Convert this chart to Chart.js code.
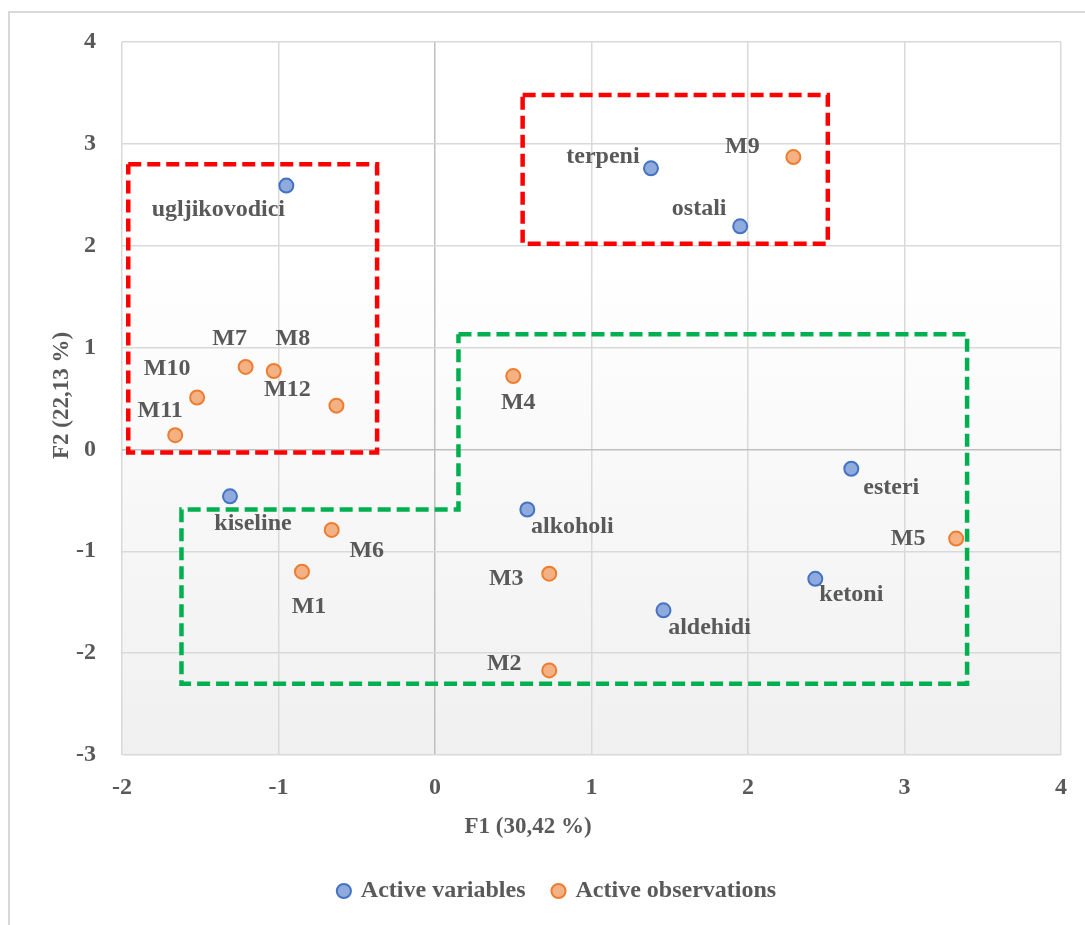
<!DOCTYPE html>
<html>
<head>
<meta charset="utf-8">
<script src="https://cdn.jsdelivr.net/npm/chart.js@4.4.1/dist/chart.umd.min.js"></script>
<style>
    html, body { margin: 0; padding: 0; background: #ffffff; }
    #wrap { position: relative; width: 1085px; height: 925px; }
</style>
</head>
<body>
<div id="wrap"><canvas id="pcaChart" width="1085" height="925"></canvas></div>
<script>
// Active variables (blue)
const varNames = ['ugljikovodici', 'terpeni', 'ostali', 'kiseline', 'alkoholi', 'esteri', 'ketoni', 'aldehidi'];
const varF1 = [-0.95, 1.38, 1.95, -1.31, 0.59, 2.66, 2.43, 1.46];
const varF2 = [2.59, 2.76, 2.19, -0.46, -0.59, -0.19, -1.27, -1.58];

// Active observations (orange)
const obsNames = ['M1', 'M2', 'M3', 'M4', 'M5', 'M6', 'M7', 'M8', 'M9', 'M10', 'M11', 'M12'];
const obsF1 = [-0.85, 0.73, 0.73, 0.50, 3.33, -0.66, -1.21, -1.03, 2.29, -1.52, -1.66, -0.63];
const obsF2 = [-1.20, -2.17, -1.22, 0.72, -0.875, -0.79, 0.81, 0.77, 2.87, 0.51, 0.14, 0.43];

// grouping outlines (data units)
const redLeftX = [-1.96, -0.37, -0.37, -1.96, -1.96];
const redLeftY = [2.80, 2.80, -0.03, -0.03, 2.80];
const redRightX = [0.56, 2.51, 2.51, 0.56, 0.56];
const redRightY = [3.48, 3.48, 2.02, 2.02, 3.48];
const greenX = [0.15, 3.40, 3.40, -1.62, -1.62, 0.15, 0.15];
const greenY = [1.13, 1.13, -2.30, -2.30, -0.59, -0.59, 1.13];

// label offsets from the marker (px)
const varLabelOffsets = [[-68, 24], [-48, -12], [-41, -18], [23, 28], [45, 17], [40, 19], [36, 16], [46, 17]];
const obsLabelOffsets = [[7, 35], [-45, -7], [-43, 5], [5, 27], [-48, 0], [35, 21], [-16, -28], [19, -32], [-51, -10], [-30, -29], [-15, -24], [-49, -16]];

const textGrey = '#595959';
const serif = "'Liberation Serif', 'Times New Roman', serif";

const toPoints = (xs, ys) => xs.map((x, i) => ({ x: x, y: ys[i] }));

const outline = (xs, ys, color) => ({
    label: '_outline',
    data: toPoints(xs, ys),
    showLine: true,
    fill: false,
    borderColor: color,
    borderWidth: 4.5,
    borderDash: [13, 6],
    pointRadius: 0,
    pointHoverRadius: 0,
    order: 2,
});

const frameAndBackground = {
    id: 'frameAndBackground',
    afterLayout(chart) {
        // legend sits a bit right of the canvas centre in the original
        chart.legend.left += 26;
        chart.legend.right += 26;
    },
    beforeDraw(chart) {
        const ctx = chart.ctx, a = chart.chartArea;
        ctx.save();
        // outer frame
        ctx.strokeStyle = '#d9d9d9';
        ctx.lineWidth = 2;
        ctx.beginPath();
        ctx.moveTo(9, chart.height);
        ctx.lineTo(9, 12);
        ctx.lineTo(chart.width, 12);
        ctx.stroke();
        // plot area gradient
        const g = ctx.createLinearGradient(0, a.top, 0, a.bottom);
        g.addColorStop(0, '#ffffff');
        g.addColorStop(0.3, '#ffffff');
        g.addColorStop(1, '#f0f0f0');
        ctx.fillStyle = g;
        ctx.fillRect(a.left, a.top, a.right - a.left, a.bottom - a.top);
        ctx.restore();
    }
};

const pointLabels = {
    id: 'pointLabels',
    afterDatasetsDraw(chart) {
        const ctx = chart.ctx;
        ctx.save();
        ctx.font = 'bold 24px ' + serif;
        ctx.fillStyle = textGrey;
        ctx.textAlign = 'center';
        ctx.textBaseline = 'middle';
        [[0, varNames, varLabelOffsets], [1, obsNames, obsLabelOffsets]].forEach(([di, names, offs]) => {
            chart.getDatasetMeta(di).data.forEach((pt, i) => {
                ctx.fillText(names[i], pt.x + offs[i][0], pt.y + offs[i][1]);
            });
        });
        // axis titles
        const a = chart.chartArea;
        ctx.font = 'bold 23px ' + serif;
        ctx.fillText('F1 (30,42 %)', 528, 827);
        ctx.translate(62, (a.top + a.bottom) / 2 - 3);
        ctx.rotate(-Math.PI / 2);
        ctx.fillText('F2 (22,13 %)', 0, 0);
        ctx.restore();
    }
};

new Chart(document.getElementById('pcaChart').getContext('2d'), {
    type: 'scatter',
    data: {
        datasets: [{
            label: 'Active variables',
            data: toPoints(varF1, varF2),
            backgroundColor: '#8faadc',
            borderColor: '#4472c4',
            borderWidth: 2,
            pointRadius: 7,
            pointHoverRadius: 7,
            order: 1,
        }, {
            label: 'Active observations',
            data: toPoints(obsF1, obsF2),
            backgroundColor: '#f4b183',
            borderColor: '#ed7d31',
            borderWidth: 2,
            pointRadius: 7,
            pointHoverRadius: 7,
            order: 1,
        },
            outline(redLeftX, redLeftY, '#ff0000'),
            outline(redRightX, redRightY, '#ff0000'),
            outline(greenX, greenY, '#00b050'),
        ]
    },
    options: {
        responsive: false,
        animation: false,
        layout: {
            padding: { left: 0, top: 42, right: 22, bottom: 12 }
        },
        plugins: {
            tooltip: { enabled: false },
            legend: {
                position: 'bottom',
                labels: {
                    usePointStyle: true,
                    pointStyle: 'circle',
                    boxWidth: 10,
                    boxHeight: 10,
                    padding: 28,
                    color: textGrey,
                    font: { family: serif, size: 24, weight: 'bold' },
                    filter: (item) => item.text !== '_outline',
                }
            }
        },
        scales: {
            x: {
                type: 'linear',
                min: -2,
                max: 4,
                ticks: {
                    stepSize: 1,
                    padding: 18,
                    color: textGrey,
                    font: { family: serif, size: 24, weight: 'bold' },
                },
                grid: {
                    color: (c) => c.tick && c.tick.value === 0 ? '#bfbfbf' : '#d9d9d9',
                    lineWidth: 1.5,
                    drawTicks: false,
                },
                border: { display: false },
                afterFit: (scale) => { scale.height = 96; }
            },
            y: {
                type: 'linear',
                min: -3,
                max: 4,
                ticks: {
                    stepSize: 1,
                    padding: 26,
                    color: textGrey,
                    font: { family: serif, size: 24, weight: 'bold' },
                },
                grid: {
                    color: (c) => c.tick && c.tick.value === 0 ? '#bfbfbf' : '#d9d9d9',
                    lineWidth: 1.5,
                    drawTicks: false,
                },
                border: { display: false },
                afterFit: (scale) => { scale.width = 122; }
            }
        }
    },
    plugins: [frameAndBackground, pointLabels]
});
</script>
</body>
</html>
